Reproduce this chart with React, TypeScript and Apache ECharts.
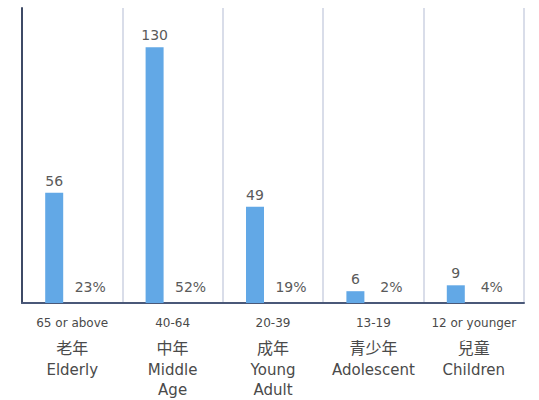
import React, { useEffect, useRef } from "react";
import * as echarts from "echarts";

const ageRanges = ["65 or above", "40-64", "20-39", "13-19", "12 or younger"];
const chineseNames = ["老年", "中年", "成年", "青少年", "兒童"];
const englishNames = ["Elderly", "Middle\nAge", "Young\nAdult", "Adolescent", "Children"];
const counts = [56, 130, 49, 6, 9];
const percents = [23, 52, 19, 2, 4];

export default function App() {
  const ref = useRef<HTMLDivElement>(null);
  useEffect(() => {
    if (!ref.current) return;
    const chart = echarts.init(ref.current, undefined, { renderer: "svg" });
    const categories = ageRanges.map((r, i) => {
      const eng = englishNames[i].split("\n").map((s) => `{c|${s}}`).join("\n");
      return `{a|${r}}\n{b|${chineseNames[i]}}\n${eng}`;
    });
    const font = "'DejaVu Sans', 'Noto Sans CJK TC', sans-serif";
    chart.setOption({
      animation: false,
      grid: { left: 22, right: 15, top: 8, bottom: 97 },
      xAxis: {
        type: "category",
        data: categories,
        axisLine: { show: true, lineStyle: { color: "#4a5878", width: 2 } },
        axisTick: { show: false },
        splitLine: { show: true, interval: 0, lineStyle: { color: "#cdd2e2", width: 1.5 } },
        axisLabel: {
          interval: 0,
          margin: 9,
          color: "#4a4a4a",
          fontFamily: font,
          rich: {
            a: { fontSize: 12, lineHeight: 22, color: "#4a4a4a", fontFamily: font },
            b: { fontSize: 16, lineHeight: 26, color: "#4a4a4a", fontFamily: "'Noto Sans CJK TC', sans-serif" },
            c: { fontSize: 15, lineHeight: 20, color: "#4a4a4a", fontFamily: font },
          },
        },
      },
      yAxis: {
        type: "value",
        min: 0,
        max: 150,
        axisLine: { show: true, lineStyle: { color: "#3e4a66", width: 2 } },
        axisTick: { show: false },
        axisLabel: { show: false },
        splitLine: { show: false },
      },
      series: [
        {
          type: "bar",
          data: counts,
          barWidth: 18,
          barGap: "100%",
          itemStyle: { color: "#62a8e6" },
          label: {
            show: true,
            position: "top",
            distance: 5,
            fontSize: 14,
            color: "#5a5a5a",
            fontFamily: font,
          },
        },
        {
          type: "bar",
          data: percents,
          barWidth: 18,
          itemStyle: { color: "rgba(0,0,0,0)" },
          label: {
            show: true,
            position: "insideBottom",
            distance: 9,
            fontSize: 14,
            color: "#5a5a5a",
            fontFamily: font,
            formatter: "{c}%",
          },
        },
      ],
    });
    return () => chart.dispose();
  }, []);
  return (
    <div
      ref={ref}
      style={{ position: "absolute", left: 0, top: 0, width: 539, height: 400 }}
    />
  );
}
